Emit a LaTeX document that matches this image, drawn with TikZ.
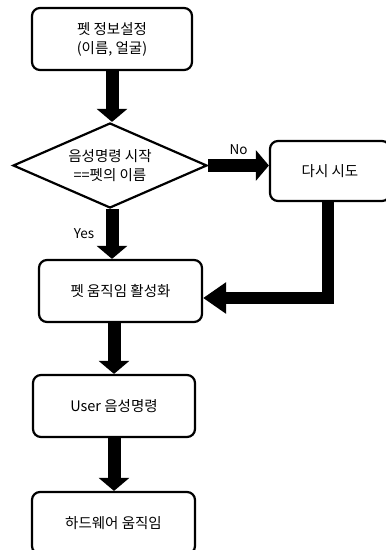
\documentclass[tikz,border=0pt]{standalone}
\usepackage{fontspec}
\setmainfont{Noto Sans CJK KR}
\usetikzlibrary{shapes.geometric, arrows.meta}

\tikzset{
	box/.style={draw, line width=2.2pt, rounded corners=8pt, align=center,
		minimum width=162pt, minimum height=62pt, inner sep=0pt},
	decision/.style={draw, diamond, line width=2.2pt, align=center, aspect=2.28,
		minimum width=194pt, minimum height=85pt, inner sep=0pt},
	arr/.style={line width=13pt, line cap=butt, -{Triangle[width=30pt,length=13pt]}},
	lbl/.style={font=\fontsize{13.5}{15}\selectfont}
}

\begin{document}
\begin{tikzpicture}[x=1pt, y=-1pt, font=\fontsize{14.5}{19}\selectfont]
	\useasboundingbox (0,0) rectangle (386,550);
	% nodes
	\node[box, minimum width=160pt] (pet) at (112,39) {펫 정보설정\\(이름, 얼굴)};
	\node[decision] (cmd) at (110,165.5) {음성명령 시작\\==펫의 이름};
	\node[box, minimum width=120pt, minimum height=60pt] (retry) at (330,171) {다시 시도};
	\node[box, minimum width=163pt] (act) at (120.5,291) {펫 움직임 활성화};
	\node[box] (voice) at (114,406) {User 음성명령};
	\node[box, minimum width=163pt] (hw) at (113.5,523) {하드웨어 움직임};
	\coordinate (bend) at (328,298);
	% arrows
	\draw[arr] (pet.south) -- (pet.south |- cmd.north);
	\draw[arr] (cmd.east) -- (cmd.east -| retry.west) node[lbl, midway, above=1pt] {No};
	\draw[arr] (cmd.south -| pet.south) -- (act.north -| pet.south) node[lbl, midway, left=8pt] {Yes};
	\draw[line width=12pt, -{Triangle[width=30pt,length=23pt]}]
		(retry.south -| bend) -- (bend) -- (bend -| act.east);
	\draw[arr] (act.south -| voice.north) -- (voice.north);
	\draw[arr] (voice.south) -- (voice.south |- hw.north);
\end{tikzpicture}
\end{document}
